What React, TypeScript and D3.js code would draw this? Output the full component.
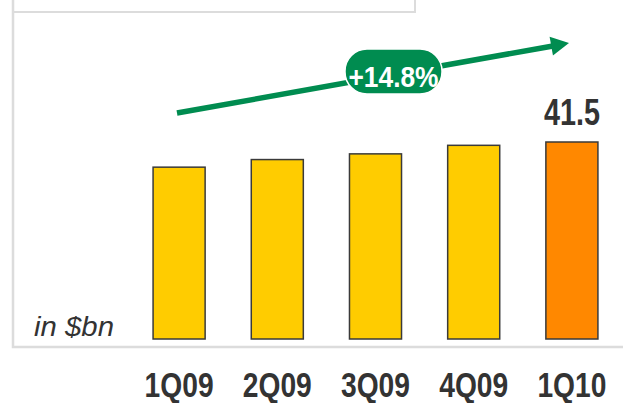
import React from "react";
import * as d3 from "d3";

const categories = ["1Q09", "2Q09", "3Q09", "4Q09", "1Q10"];
const values = [36.2, 37.8, 39.0, 40.8, 41.5];
const highlightIndex = 4;
const growthLabel = "+14.8%";
const unitLabel = "in $bn";

const W = 623;
const H = 403;
const GREEN = "#008C50";
const NARROW = "'Liberation Sans Narrow', 'Arial Narrow', 'Liberation Sans', Arial, sans-serif";

export default function App() {
  const x = d3
    .scaleBand<string>()
    .domain(categories)
    .range([130, 621])
    .paddingInner(0.47)
    .paddingOuter(0.235);
  const y = d3.scaleLinear().domain([0, 41.5]).range([339, 142]);

  const last = categories[highlightIndex];
  const arrowStart: [number, number] = [177, 113];
  const arrowEnd: [number, number] = [553, 46];
  const tip: [number, number] = [569, 43];
  const ang = Math.atan2(tip[1] - arrowStart[1], tip[0] - arrowStart[0]);
  const headLen = 18;
  const headHalf = 9.5;
  const bx = tip[0] - headLen * Math.cos(ang);
  const by = tip[1] - headLen * Math.sin(ang);
  const px = -Math.sin(ang);
  const py = Math.cos(ang);
  const head = [
    [tip[0], tip[1]],
    [bx + px * headHalf, by + py * headHalf],
    [bx - px * headHalf, by - py * headHalf],
  ];

  return (
    <svg
      width={W}
      height={H}
      style={{ position: "absolute", left: 0, top: 0, background: "#fff" }}
    >
      {/* frames */}
      <rect x={13} y={-10} width={402} height={22} fill="none" stroke="#dcdcdc" strokeWidth={2} />
      <path d={`M13,0 V347 H623`} fill="none" stroke="#dcdcdc" strokeWidth={2.5} />

      {/* bars */}
      {categories.map((c, i) => (
        <rect
          key={c}
          x={x(c)}
          y={y(values[i])}
          width={x.bandwidth()}
          height={y(0) - y(values[i])}
          fill={i === highlightIndex ? "#FF8800" : "#FFCC00"}
          stroke="#3a3a3a"
          strokeWidth={1.5}
        />
      ))}

      {/* value label */}
      <text
        x={(x(last) ?? 0) + x.bandwidth() / 2}
        y={y(values[highlightIndex]) - 17}
        textAnchor="middle"
        fontFamily={NARROW}
        fontWeight="bold"
        fontSize={37}
        fill="#333"
        textLength={56}
        lengthAdjust="spacingAndGlyphs"
      >
        {values[highlightIndex].toFixed(1)}
      </text>

      {/* x labels */}
      {categories.map((c) => (
        <text
          key={c}
          x={(x(c) ?? 0) + x.bandwidth() / 2}
          y={397}
          textAnchor="middle"
          fontFamily={NARROW}
          fontWeight="bold"
          fontSize={35}
          fill="#333"
          textLength={69}
          lengthAdjust="spacingAndGlyphs"
        >
          {c}
        </text>
      ))}

      {/* unit */}
      <text
        x={34}
        y={336}
        fontFamily="'Liberation Sans', Arial, sans-serif"
        fontStyle="italic"
        fontSize={27}
        fill="#333"
        textLength={80}
        lengthAdjust="spacingAndGlyphs"
      >
        {unitLabel}
      </text>

      {/* growth arrow */}
      <line
        x1={arrowStart[0]}
        y1={arrowStart[1]}
        x2={arrowEnd[0]}
        y2={arrowEnd[1]}
        stroke={GREEN}
        strokeWidth={5.5}
      />
      <polygon points={head.map((p) => p.join(",")).join(" ")} fill={GREEN} />

      <rect x={345} y={49} width={97} height={45} rx={22} ry={22} fill={GREEN} stroke="#fff" strokeWidth={1.5} />
      <text
        x={393.5}
        y={87}
        textAnchor="middle"
        fontFamily={NARROW}
        fontWeight="bold"
        fontSize={30}
        fill="#fff"
        textLength={90}
        lengthAdjust="spacingAndGlyphs"
      >
        {growthLabel}
      </text>
    </svg>
  );
}
